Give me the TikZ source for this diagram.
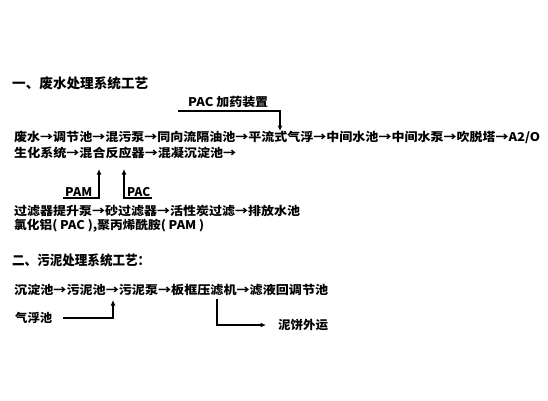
\documentclass[tikz,border=0pt]{standalone}
\usepackage{fontspec}
\usepackage{graphicx}
\setmainfont{Noto Sans CJK SC}
\usetikzlibrary{arrows.meta}
\newcommand{\fitw}[2]{\resizebox{#1pt}{\height}{#2}}
\newcommand{\arr}{→}
\tikzset{
  txt/.style={anchor=west, inner sep=0pt, font=\fontsize{12}{14}\selectfont\bfseries},
  ttl/.style={anchor=west, inner sep=0pt, font=\fontsize{13.5}{15}\selectfont\bfseries},
  conn/.style={line width=1.4pt, -{Latex[length=5.5pt,width=5pt]}},
}
\begin{document}
\begin{tikzpicture}[x=1pt,y=-1pt]
\useasboundingbox[fill=white] (0,0) rectangle (548,400);
% titles
\node[ttl] (t1) at (12,83) {\fitw{136}{一、废水处理系统工艺}};
\node[ttl] (t2) at (12,260) {\fitw{138}{二、污泥处理系统工艺：}};
% PAC dosing
\node[txt] (pacdose) at (188,102) {\fitw{80}{PAC 加药装置}};
\coordinate (u1) at (178,111);
\coordinate (d1) at (280,131);
\draw[conn] (u1) -| (d1);
% lines
\node[txt] (l1) at (14,137) {\fitw{526}{废水\arr 调节池\arr 混污泵\arr 同向流隔油池\arr 平流式气浮\arr 中间水池\arr 中间水泵\arr 吹脱塔\arr A2/O}};
\node[txt] (l2) at (14,153) {\fitw{222}{生化系统\arr 混合反应器\arr 混凝沉淀池\arr}};
\node[txt] (pam) at (65,192) {\fitw{27}{PAM}};
\node[txt] (pac) at (127,192) {\fitw{23}{PAC}};
\coordinate (pamS) at (63,198);
\coordinate (pamT) at (99,169);
\coordinate (pacS) at (152,198);
\coordinate (pacT) at (124,169);
\draw[conn] (pamS) -| (pamT);
\draw[conn] (pacS) -| (pacT);
\node[txt] (l3) at (14,211) {\fitw{286}{过滤器提升泵\arr 砂过滤器\arr 活性炭过滤\arr 排放水池}};
\node[txt] (l4) at (14,226) {\fitw{190}{氯化铝( PAC ),聚丙烯酰胺( PAM )}};
\node[txt] (l5) at (14,290) {\fitw{314}{沉淀池\arr 污泥池\arr 污泥泵\arr 板框压滤机\arr 滤液回调节池}};
\node[txt] (qf) at (15,318) {\fitw{37}{气浮池}};
\coordinate (qfS) at (63,318);
\coordinate (qfT) at (113,300);
\draw[conn] (qfS) -| (qfT);
\node[txt] (nb) at (278,325) {\fitw{50}{泥饼外运}};
\coordinate (bkS) at (217,299);
\coordinate (bkT) at (266,325);
\draw[conn] (bkS) |- (bkT);
\end{tikzpicture}
\end{document}
